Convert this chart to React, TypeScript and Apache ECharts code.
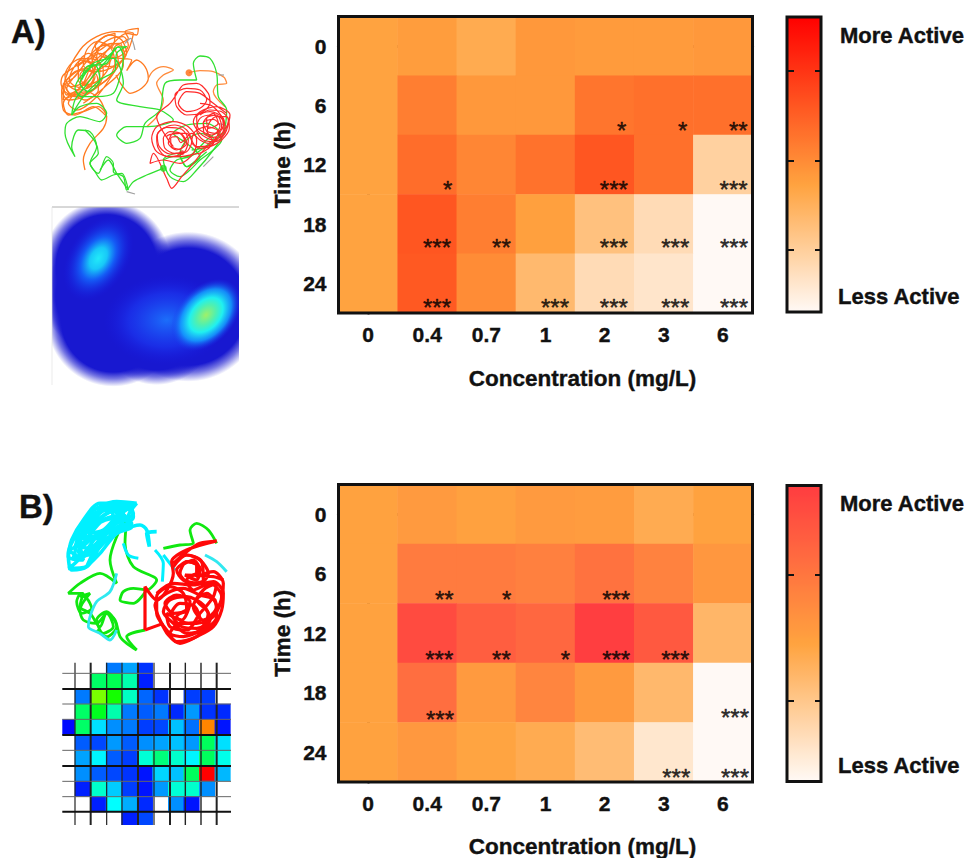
import React, { useEffect, useRef } from "react";
import * as echarts from "echarts";

const concentrations = ["0", "0.4", "0.7", "1", "2", "3", "6"];
const timePoints = ["0", "6", "12", "18", "24"];

const activityA = [
  [43, 45, 39, 47, 46, 46, 47],
  [43, 56, 47, 47, 59, 61, 61],
  [43, 62, 53, 60, 70, 61, 20],
  [43, 70, 56, 44, 28, 15, 0],
  [43, 69, 51, 32, 15, 10, 0],
];
const activityB = [
  [47, 51, 48, 51, 50, 42, 47],
  [47, 67, 67, 65, 72, 64, 53],
  [47, 92, 82, 78, 99, 85, 36],
  [47, 74, 51, 62, 51, 35, 0],
  [47, 52, 46, 42, 33, 10, 0],
];

const starsA: [number, number, string][] = [
  [1.345, 2.36, "*"], [4.29, 1.364, "*"], [5.32, 1.364, "*"], [6.26, 1.364, "**"],
  [4.156, 2.36, "***"], [6.18, 2.36, "***"],
  [1.165, 3.334, "***"], [2.254, 3.334, "**"], [4.156, 3.334, "***"], [5.194, 3.334, "***"], [6.187, 3.334, "***"],
  [1.165, 4.342, "***"], [3.16, 4.342, "***"], [4.156, 4.342, "***"], [5.194, 4.342, "***"], [6.187, 4.342, "***"],
];
const starsB: [number, number, string][] = [
  [1.289, 1.369, "**"], [2.344, 1.369, "*"], [4.195, 1.369, "***"],
  [1.204, 2.371, "***"], [2.254, 2.371, "**"], [3.337, 2.371, "*"], [4.195, 2.371, "***"], [5.194, 2.371, "***"],
  [1.216, 3.39, "***"], [6.204, 3.356, "***"],
  [5.211, 4.36, "***"], [6.204, 4.36, "***"],
];

// Track of each animal
const orangeTrackA = [[255,510],[250,480],[270,430],[310,385],[320,350],[295,320],[250,335],[205,345],[190,310],[215,285],[255,300],[295,270],[290,225],[245,210],[205,235],[185,270],[205,300],[250,290],[295,250],[300,195],[265,160],[235,190],[235,240],[270,260],[320,240],[345,190],[330,140],[290,125],[260,150],[250,195],[290,215],[340,200],[380,160],[365,120],[330,105],[300,120],[275,160],[290,210],[330,185],[345,140],[385,115],[375,95],[415,85],[410,105],[380,100],[340,130],[300,180],[260,240],[215,260],[190,250],[200,285],[245,260],[280,210],[310,170],[360,175],[395,180],[380,212],[410,180],[435,200],[445,235],[425,265],[390,280],[365,255],[348,225]];
const orangeLoopsA = [[200,240],[225,215],[262,205],[285,230],[268,262],[232,270],[205,255],[195,225],[215,190],[250,175],[290,180],[310,210],[300,250],[265,275],[225,285],[195,275],[183,250],[190,225],[228,198],[268,170],[300,150],[335,130],[365,140],[375,170],[350,195],[315,200],[290,175],[300,140],[335,115],[370,110],[385,135],[365,165],[330,175],[300,165],[285,135],[310,112],[345,100],[340,135],[310,160],[270,195],[240,225],[255,255],[290,245],[320,215],[330,180],[300,160],[265,180],[240,210],[215,240],[200,265],[225,290],[265,280],[300,255],[335,225],[355,190],[345,150],[315,135],[280,155],[255,190],[225,230],[195,255],[210,280],[250,270],[280,235],[275,195],[245,180],[220,205],[208,240],[235,262],[270,240],[285,205],[262,182],[232,200]];
const orangeWideA = [[185,270],[190,330],[225,345],[280,320],[320,350],[300,300],[260,275],[190,300],[195,240],[240,150],[290,110],[350,95],[400,100],[385,150],[340,220],[290,290],[230,330],[205,310],[250,250],[300,140],[360,130],[370,195],[310,265],[250,310]];
const orangeTrackA2 = [[445,235],[460,212],[490,200],[520,210],[490,225],[470,250],[490,300],[470,350],[440,380]];
const orangeTrackA3 = [[567,218],[600,212],[640,215],[672,232],[680,250],[650,255],[640,275],[675,320]];
const greenTrackA = [[490,505],[440,525],[400,545],[380,570],[370,530],[340,515],[340,490],[320,470],[295,520],[270,490],[290,440],[270,395],[235,390],[215,440],[225,470],[195,400],[200,370],[240,350],[300,365],[320,340],[290,310],[240,320],[215,345],[250,290],[300,240],[345,210],[350,160],[380,140],[345,145],[320,190],[260,200],[245,240],[280,190],[340,175],[370,250],[350,300],[420,320],[480,330],[520,360],[445,380],[380,380],[350,405],[380,430],[420,415],[435,370],[480,330],[495,250],[540,240],[590,240],[580,190],[600,168],[630,175],[650,220],[655,290],[680,330],[670,400],[640,450],[590,510],[550,545],[510,530],[490,480],[530,460],[560,500],[600,470],[560,430],[520,400],[560,375],[620,370],[660,400],[620,440],[575,450]];
const greenLoopsA = [[490,480],[520,470],[560,470],[590,450],[620,420],[650,400],[665,420],[640,450],[600,480],[570,510],[540,530],[510,510],[530,480],[570,470],[610,445],[640,415],[600,400],[560,420],[540,460],[560,500],[590,480],[620,455]];
const greenUpperA = [[215,345],[225,300],[255,260],[290,215],[330,170],[355,140],[370,170],[360,230],[340,280],[290,290],[245,290],[225,265],[250,220],[285,195],[300,240],[265,275],[240,250],[270,205],[305,185],[350,145]];
const greenLowerA = [[255,390],[285,425],[295,460],[270,490],[285,515],[305,540],[340,525],[365,520],[385,570],[350,520],[325,480],[300,510]];
const redTrackA = [[545,458],[510,462],[478,440],[472,405],[500,382],[545,388],[565,420],[552,458],[510,470],[470,455],[455,415],[470,380],[520,365],[565,380],[590,420],[580,460],[540,490],[490,480],[450,490],[460,460],[500,535],[515,565],[545,530],[580,490],[620,440],[650,420],[680,380],[690,345],[650,320],[600,335],[580,365],[600,400],[640,420],[675,395],[670,355],[630,335],[590,350],[595,385],[635,405],[665,380],[650,345],[620,355],[625,385],[655,370],[640,340],[610,370],[640,430],[590,440],[560,400],[520,400],[505,430],[530,450],[560,430],[540,400],[500,410],[520,440],[470,350],[510,310],[525,290],[550,255],[590,250],[625,280],[630,310],[600,340],[560,345],[530,320],[525,285],[560,265],[600,270],[620,300],[600,325],[560,335],[535,310],[560,275],[600,280],[640,310],[680,340]];
const redLoopsA = [[600,345],[630,330],[665,335],[685,360],[675,400],[645,425],[610,420],[590,390],[600,355],[635,345],[668,360],[670,392],[640,412],[612,400],[610,368],[640,358],[660,378],[645,400],[622,392],[628,368],[650,350],[680,350],[688,385],[665,420],[630,440],[600,445],[575,425],[585,395],[620,380],[655,395],[640,430],[610,455],[570,465],[535,470],[500,470],[475,445],[470,410],[490,385],[525,375],[560,390],[575,425],[560,455],[525,460],[495,445],[490,415],[510,395],[540,400],[555,425],[540,448],[515,440],[512,415],[530,410],[542,428],[575,400],[600,420],[625,430],[650,410],[672,370],[640,320],[600,310]];
const greyTrackA = [[[375,130],[392,115],[405,150]], [[380,575],[405,582]], [[655,225],[672,225]], [[652,370],[680,380],[660,420]], [[610,500],[640,470]]];
const startPointsA = { orange: [[567,218]], green: [[490,505]], red: [[546,458]] };

const cyanTrackB = [[410,70],[350,65],[300,80],[260,110],[225,170],[205,220],[215,270],[260,260],[300,200],[350,150],[400,110],[390,80],[330,75],[280,110],[240,170],[220,235],[260,225],[310,170],[370,120],[360,80],[300,95],[255,140],[235,195],[270,205],[320,150],[370,100],[320,90],[270,130],[250,175],[290,175],[340,130],[335,95],[285,125],[265,160],[310,150],[350,110],[410,70],[385,110],[395,140],[350,160],[300,220],[260,260],[300,190],[370,150],[420,135],[440,150],[448,200],[440,160],[470,155]];
const cyanFillB = [[400,70],[300,70],[250,120],[215,180],[205,230],[250,240],[240,190],[275,140],[330,95],[380,85],[400,100],[350,130],[295,165],[260,210],[225,250],[205,265],[260,260],[290,210],[330,170],[385,125],[370,105],[310,120],[265,170],[235,215],[270,225],[310,190],[350,160],[395,130],[340,115],[285,135],[255,165],[300,170],[340,140],[365,110],[320,90],[275,105],[240,150],[225,200],[210,210],[240,230],[285,195],[325,150],[280,170],[250,195],[225,165],[255,130],[300,100]];
const cyanTrackB2 = [[370,190],[385,225],[415,235]];
const cyanTrackB3 = [[465,210],[490,250],[487,305]];
const cyanTrackB4 = [[490,225],[525,270]];
const cyanTrackB5 = [[615,225],[650,245],[680,275]];
const cyanTrackB6 = [[350,280],[330,335],[290,365],[270,410],[265,440],[300,460],[330,480],[350,450]];
const greenTrackB = [[410,510],[380,490],[360,470],[345,420],[320,400],[300,440],[270,400],[240,380],[250,340],[205,340],[240,310],[300,280],[350,310],[330,240],[350,170],[380,120],[375,190],[400,260],[470,300],[440,330],[400,325],[370,335],[360,360],[400,370],[440,330]];
const greenTrackB2 = [[240,350],[270,340],[240,390],[250,420],[290,430],[320,400],[340,440],[310,460],[290,420],[320,395],[350,440],[320,470],[290,450]];
const greenTrackB3 = [[490,205],[540,195],[580,190],[570,150],[590,130],[625,150],[650,190]];
const greenTrackB4 = [[410,510],[380,470],[435,450]];
const greenTrackB5 = [[240,340],[230,365],[245,400],[275,385],[260,355],[235,345]];
const redTrackB = [[435,450],[435,320],[470,360],[520,280],[515,245],[560,210],[650,183],[600,190],[560,215],[520,250],[560,225],[605,245],[610,300],[570,310],[540,280],[560,245],[590,255],[590,290],[640,275],[670,310],[660,370],[620,430],[590,470],[530,485],[500,450],[470,400],[470,350],[510,320],[550,340],[560,390],[520,400],[495,370],[530,345],[570,365],[545,420],[500,400],[510,440],[560,450],[600,400],[640,350],[650,310],[610,330],[580,380],[610,420],[650,380],[620,340],[590,360],[625,400],[600,450],[550,470],[510,460],[540,430],[590,430],[640,410],[665,350],[630,310],[580,330],[560,300],[600,270],[580,240],[540,260]];
const redFillB = [[470,340],[520,310],[580,315],[640,305],[670,340],[665,390],[640,440],[590,470],[540,490],[505,465],[480,420],[465,375],[500,340],[550,325],[600,345],[645,360],[650,410],[610,450],[560,460],[520,430],[490,395],[510,360],[560,350],[610,375],[630,420],[590,445],[545,440],[515,400],[540,370],[585,380],[600,420],[565,430],[530,410],[560,390]];
const redFillB2 = [[520,260],[560,225],[600,240],[625,280],[600,310],[550,300],[530,270],[565,245],[600,265],[590,300],[555,285],[640,290],[670,300]];
const redTrackB2 = [[435,450],[490,430]];

const tileValues: (number | string)[][] = [
  ["-", "-", "-", 12, 16, 5, "-", "-", "-", "-", "-"],
  ["-", "-", 40, 42, 33, 3, "-", "-", "-", "-", "-"],
  ["-", 12, 62, 52, 31, 10, 5, "-", 6, 6, "-"],
  ["-", 40, 47, 33, 12, 9, 12, 4, 15, 5, 4],
  [1, 40, 22, 14, 12, 6, 7, 19, 11, 87, 2],
  ["-", 9, 7, 15, 9, 14, 16, 19, 15, 41, 22],
  ["-", 16, 24, 9, 6, 29, 38, 30, 24, 41, 27],
  ["-", 14, 9, 7, 5, 2, 21, 19, 41, 100, 18],
  ["-", 3, 30, 20, 6, 2, 15, 29, 30, 14, "-"],
  ["-", "-", 3, 25, 17, 4, "-", 14, 2, "-", "-"],
  ["-", "-", "-", "-", 3, 7, "-", "-", "-", "-", "-"],
];
const tileIndex = tileValues.map((_, i) => String(i));

const FONT = '"Liberation Sans", Arial, sans-serif';
const INK = "#111";

function ramp(anchors: [number, number[]][], steps = 60): string[] {
  const out: string[] = [];
  for (let i = 0; i <= steps; i++) {
    const t = i / steps;
    let k = 0;
    while (k < anchors.length - 2 && t > anchors[k + 1][0]) k++;
    const [t0, c0] = anchors[k];
    const [t1, c1] = anchors[k + 1];
    const f = (t - t0) / (t1 - t0);
    const c = c0.map((v, j) => Math.round(v + (c1[j] - v) * f));
    out.push(`rgb(${c[0]},${c[1]},${c[2]})`);
  }
  return out;
}

const rampA = ramp([[0, [255, 249, 245]], [0.43, [255, 163, 63]], [1, [255, 0, 0]]]);
const rampB = ramp([[0, [255, 249, 245]], [0.466, [255, 163, 63]], [1, [255, 60, 64]]]);
const jet = ["#0000ff", "#00ffff", "#00ff00", "#ffff00", "#ff0000"];

const cells = (m: (number | string)[][]) => m.flatMap((row, r) => row.map((v, c) => [c, r, v]));

const heavy = { fontFamily: FONT, fontWeight: "bold" as const, color: INK, textBorderColor: INK, textBorderWidth: 0.4 };

function panelAxes(grid: number, xNameGap: number) {
  const line = { show: true, lineStyle: { color: INK, width: 3 } };
  const tick = { show: true, length: 8, alignWithLabel: true, lineStyle: { color: INK, width: 3 } };
  const x = [
    {
      type: "category", gridIndex: grid, data: concentrations, position: "bottom",
      axisLine: line, axisTick: tick, axisLabel: { ...heavy, fontSize: 21, margin: 11 }, splitLine: { show: false },
      name: "Concentration (mg/L)", nameLocation: "middle", nameGap: xNameGap, nameMoveOverlap: false,
      nameTextStyle: { ...heavy, fontSize: 22.5, padding: [0, 0, 0, 74] },
    },
    { type: "value", gridIndex: grid, min: -0.5, max: 6.5, show: false, position: "top" },
  ];
  const y = [
    {
      type: "category", gridIndex: grid, data: timePoints, inverse: true, position: "left",
      axisLine: line, axisTick: tick, axisLabel: { ...heavy, fontSize: 21, margin: 12 }, splitLine: { show: false },
      name: "Time (h)", nameLocation: "middle", nameGap: 45, nameMoveOverlap: false,
      nameTextStyle: { ...heavy, fontSize: 22.5 },
    },
    { type: "value", gridIndex: grid, min: -0.5, max: 4.5, inverse: true, show: false, position: "right" },
  ];
  return { x, y };
}

function starSeries(stars: [number, number, string][], axisX: number, axisY: number) {
  return {
    type: "scatter", xAxisIndex: axisX, yAxisIndex: axisY, symbolSize: 1, clip: false, z: 6, silent: true,
    itemStyle: { color: "transparent" },
    label: {
      show: true, position: "inside", offset: [0, 3.7], fontFamily: FONT, fontSize: 24, color: "#000",
      textBorderColor: "#000", textBorderWidth: 0.5,
      formatter: (p: any) => p.value[2],
    },
    data: stars.map((s) => [s[0], s[1], s[2]]),
  };
}

function trackSeries(points: number[][], color: string, width: number, ax: number) {
  return {
    type: "line", xAxisIndex: ax, yAxisIndex: ax, data: points, showSymbol: false, clip: false,
    smooth: 0.3, silent: true, z: 4, lineStyle: { color, width },
  };
}

function dotSeries(points: number[][], color: string, size: number, ax: number) {
  return {
    type: "scatter", xAxisIndex: ax, yAxisIndex: ax, data: points, symbolSize: size, silent: true, z: 5,
    itemStyle: { color },
  };
}

function hiddenValueAxis(grid: number, max: number, inverse: boolean) {
  return { type: "value", gridIndex: grid, min: 0, max, inverse, show: false };
}

const boldText = (x: number, y: number, text: string, fontSize = 22, align = "left") => ({
  type: "text", x, y, z: 20,
  style: {
    text, x: 0, y: 0, fill: INK, stroke: INK, lineWidth: 0.4,
    font: `bold ${fontSize}px ${FONT}`, textAlign: align, textVerticalAlign: "middle",
  },
});
const frame = (x: number, y: number, width: number, height: number, lineWidth = 3) => ({
  type: "rect", z: 20, silent: true, shape: { x, y, width, height },
  style: { fill: "none", stroke: INK, lineWidth },
});
const bar = (x1: number, y1: number, x2: number, y2: number, lineWidth = 2, stroke = INK, z = 20) => ({
  type: "line", z, silent: true, shape: { x1, y1, x2, y2 }, style: { stroke, lineWidth },
});
const mask = (x: number, y: number, width: number, height: number) => ({
  type: "rect", z: 3, silent: true, shape: { x, y, width, height }, style: { fill: "#fff" },
});
const blueStops = [
  { offset: 0, color: "rgba(24,24,208,1)" }, { offset: 0.78, color: "rgba(24,24,208,1)" },
  { offset: 0.88, color: "rgba(24,24,208,0.6)" }, { offset: 1, color: "rgba(24,24,208,0)" },
];
const blob = (cx: number, cy: number, rx: number, ry: number, rotation: number, colorStops: any[], z = 1) => ({
  type: "ellipse", z, silent: true, x: cx / 3, y: cy / 3, rotation,
  shape: { cx: 0, cy: 0, rx: rx / 3, ry: ry / 3 },
  style: { fill: { type: "radial", x: 0.5, y: 0.5, r: 0.5, colorStops } },
});

const colorbarTicks = (ys: number[]) =>
  ys.flatMap((y) => [bar(788, y, 794, y), bar(815, y, 821, y)]);

const tileLines: [number, number][] = [
  [225, 1.2], [272, 2], [320, 1.2], [366, 1.2], [414, 2], [462, 1.2], [510, 2], [556, 1.4], [603, 1.4], [650, 2],
];
const tileRows: [number, number][] = [
  [580, 1], [627, 2], [672, 1], [718, 1], [765, 2], [811, 1], [858, 2], [904, 1], [950, 1], [995, 2],
];

export default function App() {
  const ref = useRef<HTMLDivElement>(null);
  useEffect(() => {
    const chart = echarts.init(ref.current!, undefined, { renderer: "svg" });
    const a = panelAxes(0, 54);
    const b = panelAxes(1, 52.5);
    const option: any = {
      animation: false,
      backgroundColor: "#fff",
      grid: [
        { left: 338.5, top: 16.5, width: 414, height: 296.5, outerBoundsMode: "none" },
        { left: 338.5, top: 484.5, width: 414, height: 297.5, outerBoundsMode: "none" },
        { left: 0, top: 0, width: 250, height: 400, outerBoundsMode: "none" },
        { left: 0, top: 480, width: 250, height: 360, outerBoundsMode: "none" },
        { left: 59.5, top: 657.9, width: 170.9, height: 169.4, outerBoundsMode: "none" },
      ],
      xAxis: [
        ...a.x, ...b.x,
        hiddenValueAxis(2, 750, false),
        hiddenValueAxis(3, 750, false),
        { type: "category", gridIndex: 4, data: tileIndex, show: false },
      ],
      yAxis: [
        ...a.y, ...b.y,
        hiddenValueAxis(2, 1200, true),
        hiddenValueAxis(3, 1080, true),
        { type: "category", gridIndex: 4, data: tileIndex, inverse: true, show: false },
      ],
      visualMap: [
        {
          type: "continuous", seriesIndex: 0, min: 0, max: 100, calculable: false, padding: 0,
          left: 787, top: 17, itemWidth: 34, itemHeight: 295, inRange: { color: rampA }, text: ["", ""],
        },
        {
          type: "continuous", seriesIndex: 1, min: 0, max: 100, calculable: false, padding: 0,
          left: 787, top: 486, itemWidth: 34, itemHeight: 295, inRange: { color: rampB }, text: ["", ""],
        },
        { type: "continuous", seriesIndex: 2, min: 0, max: 100, show: false, inRange: { color: jet } },
      ],
      series: [
        { type: "heatmap", xAxisIndex: 0, yAxisIndex: 0, data: cells(activityA), silent: true },
        { type: "heatmap", xAxisIndex: 2, yAxisIndex: 2, data: cells(activityB), silent: true },
        { type: "heatmap", xAxisIndex: 6, yAxisIndex: 6, data: cells(tileValues), silent: true, z: 1 },
        starSeries(starsA, 1, 1),
        starSeries(starsB, 3, 3),
        trackSeries(orangeTrackA, "#ff7a20", 1.3, 4),
        trackSeries(orangeLoopsA, "#ff7a20", 1.3, 4),
        trackSeries(orangeWideA, "#ff7a20", 1.3, 4),
        trackSeries(orangeTrackA2, "#ff8a3a", 1.3, 4),
        trackSeries(orangeTrackA3, "#ff8a3a", 1.3, 4),
        ...greyTrackA.map((t) => trackSeries(t, "#a0a0a0", 1.2, 4)),
        trackSeries(greenTrackA, "#30e030", 1.3, 4),
        trackSeries(greenLoopsA, "#30e030", 1.3, 4),
        trackSeries(greenUpperA, "#30e030", 1.3, 4),
        trackSeries(greenLowerA, "#30e030", 1.3, 4),
        trackSeries(redTrackA, "#ff2a2a", 1.2, 4),
        trackSeries(redLoopsA, "#ff2a2a", 1.2, 4),
        dotSeries(startPointsA.orange, "#ff6a10", 7, 4),
        dotSeries(startPointsA.green, "#20e020", 7, 4),
        dotSeries(startPointsA.red, "#f02020", 5, 4),
        trackSeries(greenTrackB, "#10e810", 2.8, 5),
        trackSeries(greenTrackB2, "#10e810", 2.8, 5),
        trackSeries(greenTrackB3, "#10e810", 2.8, 5),
        trackSeries(greenTrackB4, "#10e810", 2.8, 5),
        trackSeries(greenTrackB5, "#10e810", 2.8, 5),
        trackSeries(cyanTrackB, "#00f0ff", 3.6, 5),
        trackSeries(cyanFillB, "#00f0ff", 3.6, 5),
        trackSeries(cyanTrackB2, "#00f0ff", 3, 5),
        trackSeries(cyanTrackB3, "#00f0ff", 3, 5),
        trackSeries(cyanTrackB4, "#00f0ff", 3, 5),
        trackSeries(cyanTrackB5, "#30e8f0", 3, 5),
        trackSeries(cyanTrackB6, "#30e8f0", 2.8, 5),
        trackSeries(redTrackB, "#ff0808", 3.2, 5),
        trackSeries(redFillB, "#ff0808", 3.2, 5),
        trackSeries(redFillB2, "#ff0808", 3.2, 5),
        trackSeries(redTrackB2, "#ff0808", 3, 5),
      ],
      graphic: {
        elements: [
          boldText(11, 31, "A)", 33),
          boldText(19, 506, "B)", 33),
          // density photo, panel A
          blob(320, 800, 195, 200, 0, blueStops),
          blob(565, 920, 225, 225, 0, blueStops),
          blob(340, 960, 200, 200, 0, blueStops),
          blob(300, 890, 170, 170, 0, blueStops),
          blob(470, 950, 190, 205, 0, blueStops),
          blob(295, 775, 90, 140, -0.55, [
            { offset: 0, color: "#22eaf8" }, { offset: 0.25, color: "#18c8f8" }, { offset: 0.5, color: "rgba(20,100,250,0.9)" },
            { offset: 1, color: "rgba(24,24,225,0)" },
          ], 2),
          blob(500, 960, 190, 135, 0.05, [
            { offset: 0, color: "rgba(28,120,255,0.9)" }, { offset: 0.6, color: "rgba(28,60,245,0.6)" }, { offset: 1, color: "rgba(24,24,225,0)" },
          ], 2),
          blob(618, 945, 85, 125, -0.75, [
            { offset: 0, color: "#a0f068" }, { offset: 0.28, color: "#50f0b0" }, { offset: 0.48, color: "#20f0f0" },
            { offset: 0.72, color: "rgba(20,160,255,0.85)" }, { offset: 1, color: "rgba(24,50,235,0)" },
          ], 2),
          mask(239, 195, 28, 195),
          mask(40, 196, 200, 11),
          mask(40, 200, 12, 190),
          bar(52, 207, 239, 207, 1, "#b0b0b0", 3),
          bar(52, 207, 52, 385, 0.6, "#dddddd", 3),
          // masks trimming the tile map's outer rows and columns
          mask(55, 655, 7.3, 176),
          mask(55, 654, 180, 8.7),
          mask(55, 825, 180, 5),
          ...tileLines.map(([z, w]) => bar(z / 3, 662.7, z / 3, 825, w, "#222", 4)),
          ...tileRows.map(([z, w]) => bar(62.3, 480 + z / 3, 231, 480 + z / 3, w, w > 1.5 ? INK : "#666", 4)),
          // heat map frames
          frame(338.5, 16.5, 414, 296.5),
          frame(338.5, 484.5, 414, 297.5),
          // colour bars
          frame(787, 17, 34, 295),
          frame(787, 485.5, 34, 296),
          ...colorbarTicks([71, 161, 250]),
          ...colorbarTicks([575, 701]),
          boldText(840, 35, "More Active"),
          boldText(838, 296, "Less Active"),
          boldText(840, 503, "More Active"),
          boldText(838, 765, "Less Active"),
        ],
      },
    };
    chart.setOption(option);
    return () => chart.dispose();
  }, []);
  return <div ref={ref} style={{ position: "absolute", left: 0, top: 0, width: 968, height: 858 }} />;
}
